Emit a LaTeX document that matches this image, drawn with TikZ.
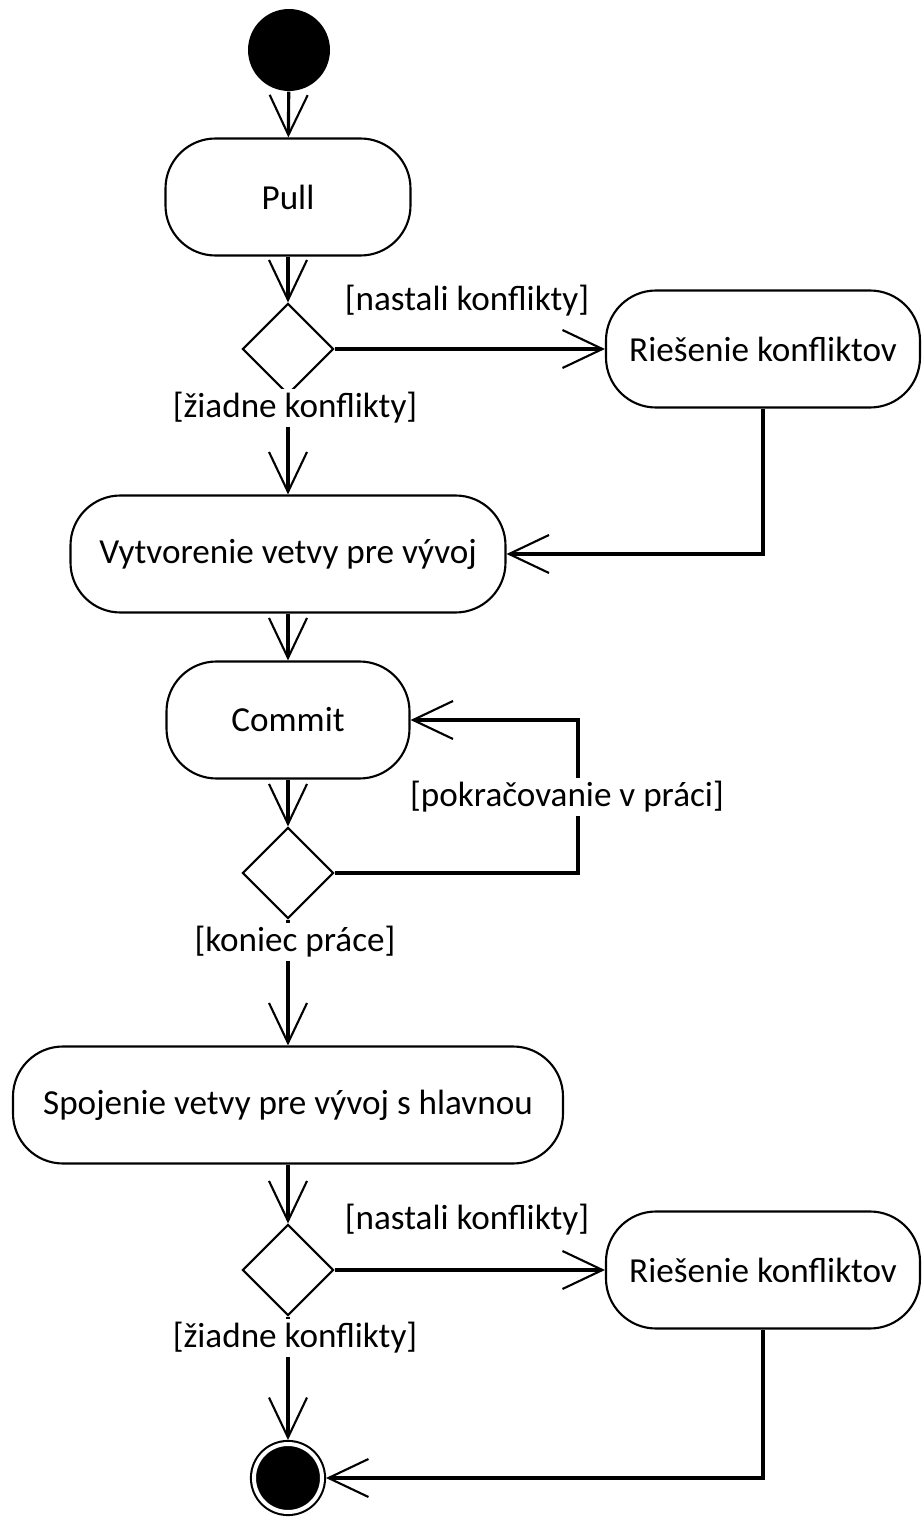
\documentclass[tikz,border=0pt]{standalone}
\usepackage{fontspec}
\setmainfont{Carlito}
\usetikzlibrary{shapes.geometric, arrows.meta}

\begin{document}
\begin{tikzpicture}[
    action/.style={draw, line width=0.6pt, rounded corners=0.5cm, minimum height=1.17cm, inner sep=0pt},
    decision/.style={draw, diamond, line width=0.6pt, minimum size=0.91cm, inner sep=0pt},
    guard/.style={fill=white, inner sep=1pt},
    flow/.style={line width=0.9pt, -{Straight Barb[length=0.4cm, width=0.38cm, line width=0.6pt]}},
    startnode/.style={circle, fill=black, minimum size=0.82cm, inner sep=0pt},
    endnode/.style={circle, fill=black, draw, line width=0.6pt, double=white, double distance=0.04cm, minimum size=0.68cm, inner sep=0pt, outer sep=0.04cm}
]
\useasboundingbox (0,0) rectangle (9.24,15.17);

% Start and pull
\node[startnode] (start) at (2.89,14.67) {};
\node[action, minimum width=2.45cm] (pull) at (2.88,13.20) {Pull};
\draw[flow] (start) -- (pull);

% First conflict check
\node[decision] (check1) at (2.88,11.68) {};
\node[action, minimum width=3.14cm] (resolve1) at (7.63,11.68) {Riešenie konfliktov};
\node[action, minimum width=4.35cm] (branch) at (2.88,9.63) {Vytvorenie vetvy pre vývoj};
\draw[flow] (pull) -- (check1);
\draw[flow] (check1) -- (resolve1);
\draw[flow] (check1) -- (branch);
\draw[flow] (resolve1.south) |- (branch.east);
\node at (4.67,12.16) (conf1) {[nastali konflikty]};
\node[guard] at (2.95,11.09) (noconf1) {[žiadne konflikty]};

% Commit loop
\node[action, minimum width=2.43cm] (commit) at (2.88,7.97) {Commit};
\node[decision] (check2) at (2.88,6.44) {};
\coordinate (loop) at (5.78,6.44);
\draw[flow] (branch) -- (commit);
\draw[flow] (commit) -- (check2);
\draw[flow] (check2.east) -- (loop) |- (commit.east);
\node[guard] at (5.67,7.20) (goon) {[pokračovanie v práci]};

% Merge into main branch
\node[action, minimum width=5.50cm] (merge) at (2.88,4.12) {Spojenie vetvy pre vývoj s hlavnou};
\draw[flow] (check2) -- (merge);
\node[guard] at (2.95,5.75) (done) {[koniec práce]};

% Second conflict check
\node[decision] (check3) at (2.88,2.47) {};
\node[action, minimum width=3.14cm] (resolve2) at (7.63,2.47) {Riešenie konfliktov};
\node[endnode] (finish) at (2.88,0.39) {};
\draw[flow] (merge) -- (check3);
\draw[flow] (check3) -- (resolve2);
\draw[flow] (check3) -- (finish);
\draw[flow] (resolve2.south) |- (finish.east);
\node at (4.67,2.97) (conf2) {[nastali konflikty]};
\node[guard] at (2.95,1.79) (noconf2) {[žiadne konflikty]};
\end{tikzpicture}
\end{document}
